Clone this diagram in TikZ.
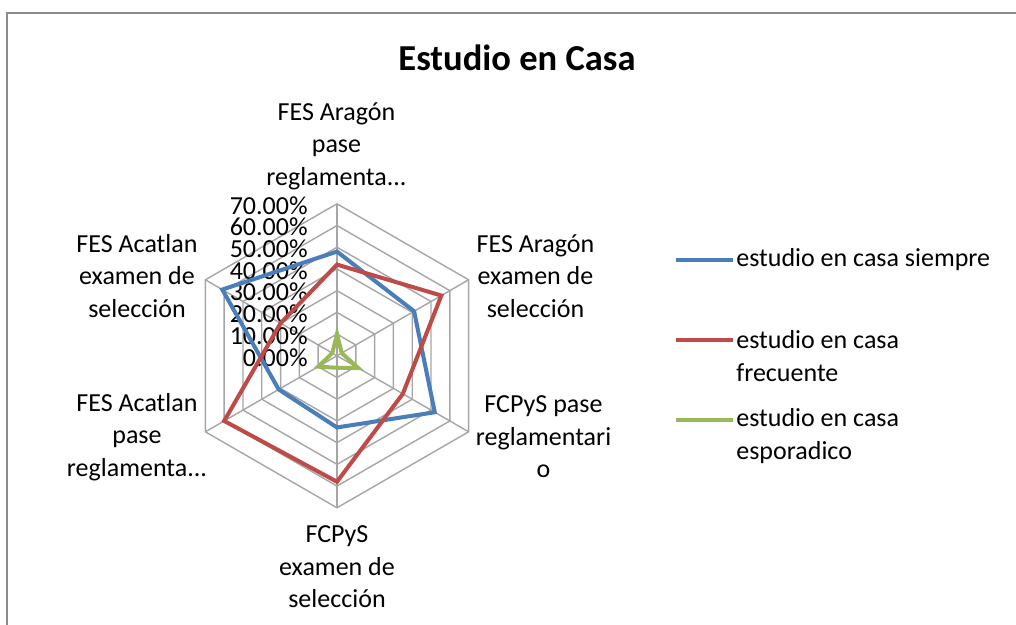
\documentclass[tikz,border=0pt]{standalone}
\usepackage{fontspec}
\setmainfont{Carlito}
\definecolor{serieblue}{HTML}{4A7EBB}
\definecolor{seriered}{HTML}{BE4B48}
\definecolor{seriegreen}{HTML}{98B954}
\definecolor{gridgray}{HTML}{A6A6A6}
\definecolor{framegray}{HTML}{8C8C8C}
\newcommand{\ru}{0.04343}
\begin{document}
\begin{tikzpicture}[
    grid/.style={draw=gridgray, line width=0.8pt},
    siempre/.style={draw=serieblue, line width=2.3pt},
    frecuente/.style={draw=seriered, line width=2.3pt},
    esporadico/.style={draw=seriegreen, line width=2.3pt},
    lbl/.style={align=center, inner sep=0pt, font=\fontsize{14.8}{18.5}\selectfont},
    tick/.style={anchor=east, inner sep=0pt, font=\fontsize{14.8}{18.5}\selectfont},
    legend/.style={anchor=west, align=left, inner sep=0pt, font=\fontsize{14.8}{18.5}\selectfont},
]
    \useasboundingbox (-6.74,-5.384) rectangle (13.58,7.116);
    \draw[draw=framegray, line width=1.2pt] (-6.6,-5.5) -- (-6.6,6.856) -- (13.7,6.856);

    % Title
    \node[font=\fontsize{20.8}{25}\selectfont\bfseries] (title) at (3.6, 5.956) {Estudio en Casa};

    % Grid
    \foreach \k in {1,...,7}
        \draw[grid] (90:10*\k*\ru) -- (30:10*\k*\ru) -- (-30:10*\k*\ru) -- (-90:10*\k*\ru)
                    -- (210:10*\k*\ru) -- (150:10*\k*\ru) -- cycle;
    \foreach \a in {90,30,-30,-90,210,150}
        \draw[grid] (0,0) -- (\a:70*\ru);

    % Scale
    \node[tick] (t0) at (-0.58, -0.03+0*\ru)  {0.00\%};
    \node[tick] (t1) at (-0.58, -0.03+10*\ru) {10.00\%};
    \node[tick] (t2) at (-0.58, -0.03+20*\ru) {20.00\%};
    \node[tick] (t3) at (-0.58, -0.03+30*\ru) {30.00\%};
    \node[tick] (t4) at (-0.58, -0.03+40*\ru) {40.00\%};
    \node[tick] (t5) at (-0.58, -0.03+50*\ru) {50.00\%};
    \node[tick] (t6) at (-0.58, -0.03+60*\ru) {60.00\%};
    \node[tick] (t7) at (-0.58, -0.03+70*\ru) {70.00\%};

    % Categories
    \node[lbl] (aragonpase) at (-0.01, 4.196)  {FES Aragón\\pase\\reglamenta...};
    \node[lbl] (aragonexam) at (3.97, 1.596)   {FES Aragón\\examen de\\selección};
    \node[lbl] (fcpyspase)  at (4.13, -1.624)  {FCPyS pase\\reglamentari\\o};
    \node[lbl] (fcpysexam)  at (0.0, -4.224)   {FCPyS\\examen de\\selección};
    \node[lbl] (acatpase)   at (-4.0, -1.624)  {FES Acatlan\\pase\\reglamenta...};
    \node[lbl] (acatexam)   at (-4.0, 1.596)   {FES Acatlan\\examen de\\selección};

    % Series
    \coordinate (s1) at (90:48*\ru);
    \coordinate (s2) at (30:41*\ru);
    \coordinate (s3) at (-30:52*\ru);
    \coordinate (s4) at (-90:33*\ru);
    \coordinate (s5) at (210:31*\ru);
    \coordinate (s6) at (150:61*\ru);
    \draw[siempre] (s1) -- (s2) -- (s3) -- (s4) -- (s5) -- (s6) -- cycle;

    \coordinate (f1) at (90:42*\ru);
    \coordinate (f2) at (30:55.5*\ru);
    \coordinate (f3) at (-30:35*\ru);
    \coordinate (f4) at (-90:58*\ru);
    \coordinate (f5) at (210:60*\ru);
    \coordinate (f6) at (150:30*\ru);
    \draw[frecuente] (f1) -- (f2) -- (f3) -- (f4) -- (f5) -- (f6) -- cycle;

    \coordinate (e1) at (90:10*\ru);
    \coordinate (e2) at (30:2.5*\ru);
    \coordinate (e3) at (-30:11.3*\ru);
    \coordinate (e4) at (-90:5.5*\ru);
    \coordinate (e5) at (210:10*\ru);
    \coordinate (e6) at (150:2.5*\ru);
    \draw[esporadico] (e1) -- (e2) -- (e3) -- (e4) -- (e5) -- (e6) -- cycle;

    % Legend
    \node[legend] (lsiempre)    at (7.98, 1.916)  {estudio en casa siempre};
    \node[legend] (lfrecuente)  at (7.98, -0.004) {estudio en casa\\frecuente};
    \node[legend] (lesporadico) at (7.98, -1.604) {estudio en casa\\esporadico};
    \coordinate (ks1) at (6.78, 1.916);   \coordinate (ks2) at (7.92, 1.916);
    \coordinate (kf1) at (6.78, 0.316);   \coordinate (kf2) at (7.92, 0.316);
    \coordinate (ke1) at (6.78, -1.284);  \coordinate (ke2) at (7.92, -1.284);
    \draw[siempre]    (ks1) -- (ks2);
    \draw[frecuente]  (kf1) -- (kf2);
    \draw[esporadico] (ke1) -- (ke2);
\end{tikzpicture}
\end{document}
